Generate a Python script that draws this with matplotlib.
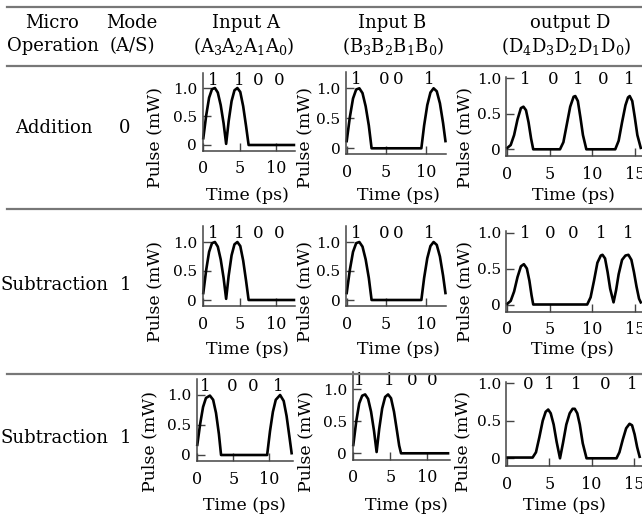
import matplotlib
matplotlib.use('Agg')
import matplotlib.pyplot as plt
from matplotlib.lines import Line2D

plt.rcParams['font.family'] = ['DejaVu Serif']
plt.rcParams['mathtext.fontset'] = 'dejavuserif'

# ---------------- data ----------------
operations = ['Addition', 'Subtraction', 'Subtraction']
modes = ['0', '1', '1']

a_bits = [[1, 1, 0, 0], [1, 1, 0, 0], [1, 0, 0, 1]]
b_bits = [[1, 0, 0, 1], [1, 0, 0, 1], [1, 1, 0, 0]]
d_bits = [[1, 0, 1, 0, 1], [1, 0, 0, 1, 1], [0, 1, 1, 0, 1]]

a_bit_pos = [[1.4, 4.9, 7.6, 10.4], [1.4, 4.9, 7.6, 10.4], [1.1, 4.8, 7.8, 11.2]]
b_bit_pos = [[1.25, 4.8, 6.5, 10.4], [1.25, 4.8, 6.5, 10.4], [0.8, 4.9, 7.9, 10.6]]
d_bit_pos = [[2.1, 5.4, 8.35, 11.3, 14.4], [2.1, 5.1, 7.8, 11.1, 14.2],
             [2.5, 5.0, 8.2, 11.6, 14.8]]

# Input A, pattern 1100 (rows 1 and 2)
a1100_t = [0, 0.4, 0.8, 1.2, 1.6, 2.0, 2.4, 2.8, 3.15, 3.5, 3.9, 4.3, 4.7, 5.1, 5.5, 5.9, 6.25, 12.5]
a1100_p = [0.12, 0.52, 0.83, 0.98, 1.0, 0.92, 0.7, 0.38, 0.02, 0.42, 0.77, 0.96, 1.0, 0.93, 0.68, 0.33, 0.0, 0.0]

# Input B, pattern 1001 (rows 1 and 2)
b1001_t = [0, 0.4, 0.8, 1.2, 1.6, 2.0, 2.4, 2.8, 3.15, 9.45, 9.8, 10.2, 10.6, 11.0, 11.4, 11.8, 12.2, 12.5]
b1001_p = [0.12, 0.52, 0.83, 0.98, 1.0, 0.92, 0.7, 0.38, 0.0, 0.0, 0.38, 0.72, 0.93, 1.0, 0.95, 0.75, 0.42, 0.12]

# Row 3 Input A (1001)
a3_t = [0, 0.4, 0.8, 1.2, 1.75, 2.2, 2.6, 3.0, 3.3, 9.7, 10.1, 10.5, 10.9, 11.5, 12.0, 12.4, 12.8, 13.1]
a3_p = [0.17, 0.52, 0.8, 0.95, 0.99, 0.92, 0.7, 0.35, 0.0, 0.0, 0.4, 0.72, 0.92, 1.0, 0.9, 0.65, 0.3, 0.03]

# Row 3 Input B (1100)
b3_t = [0, 0.4, 0.8, 1.2, 1.6, 2.0, 2.4, 2.8, 3.15, 3.5, 3.9, 4.3, 4.7, 5.1, 5.5, 5.9, 6.2, 6.45, 12.8]
b3_p = [0.13, 0.5, 0.78, 0.9, 0.92, 0.85, 0.65, 0.35, 0.02, 0.38, 0.7, 0.88, 0.92, 0.86, 0.65, 0.35, 0.12, 0.0, 0.0]

# Output D
d1_t = [0, 0.4, 0.8, 1.2, 1.6, 1.9, 2.2, 2.5, 2.8, 3.05, 6.2, 6.6, 7.0, 7.4, 7.8, 8.0, 8.3, 8.6, 8.9, 9.3,
        12.7, 13.1, 13.5, 13.9, 14.2, 14.4, 14.7, 15.0, 15.3, 15.7]
d1_p = [0.02, 0.06, 0.2, 0.42, 0.58, 0.6, 0.55, 0.38, 0.15, 0.0, 0.0, 0.1, 0.35, 0.6, 0.74, 0.75, 0.68, 0.45, 0.2, 0.0,
        0.0, 0.12, 0.38, 0.62, 0.73, 0.75, 0.68, 0.45, 0.2, 0.02]

d2_t = [0, 0.4, 0.8, 1.2, 1.6, 1.95, 2.3, 2.6, 2.85, 3.05, 9.4, 9.8, 10.2, 10.6, 11.0, 11.2, 11.5, 11.8, 12.1, 12.5,
        12.8, 13.1, 13.5, 13.9, 14.25, 14.6, 14.9, 15.2, 15.5, 15.7]
d2_p = [0.01, 0.05, 0.18, 0.38, 0.53, 0.56, 0.5, 0.33, 0.13, 0.0, 0.0, 0.1, 0.33, 0.58, 0.68, 0.69, 0.64, 0.45, 0.22, 0.03,
        0.2, 0.42, 0.62, 0.68, 0.69, 0.62, 0.45, 0.25, 0.08, 0.03]

d3_t = [0, 3.0, 3.4, 3.8, 4.2, 4.55, 4.85, 5.15, 5.5, 5.85, 6.25, 6.6, 7.0, 7.4, 7.75, 8.0, 8.3, 8.6, 8.95, 9.4,
        12.95, 13.3, 13.7, 14.1, 14.5, 14.8, 15.1, 15.4, 15.7]
d3_p = [0.01, 0.01, 0.08, 0.28, 0.5, 0.62, 0.65, 0.6, 0.45, 0.22, 0.0, 0.2, 0.45, 0.6, 0.66, 0.66, 0.6, 0.45, 0.2, 0.0,
        0.0, 0.08, 0.25, 0.4, 0.46, 0.44, 0.32, 0.15, 0.02]

a_curves = [(a1100_t, a1100_p), (a1100_t, a1100_p), (a3_t, a3_p)]
b_curves = [(b1001_t, b1001_p), (b1001_t, b1001_p), (b3_t, b3_p)]
d_curves = [(d1_t, d1_p), (d2_t, d2_p), (d3_t, d3_p)]

ab_xticks = [0, 5, 10]
d_xticks = [0, 5, 10, 15]
yticks = [0, 0.5, 1.0]
ytick_labels = ['0', '0.5', '1.0']

# ---------------- layout (pixels) ----------------
W, H = 642, 521
fig = plt.figure(figsize=(W / 100, H / 100), dpi=100)

# per row: (x0, ppx, xmax, y0, ppy) for A, B, D
layout = [
    [(203.3, 7.25, 12.6, 145.0, 57.0), (346.7, 7.9, 12.6, 148.3, 60.0), (507.3, 8.5, 15.8, 149.3, 71.0)],
    [(203.3, 7.25, 12.6, 300.0, 58.0), (346.7, 7.9, 12.6, 300.0, 58.0), (507.3, 8.5, 15.8, 304.5, 72.0)],
    [(197.3, 7.2, 13.3, 455.0, 60.0), (353.3, 7.4, 13.0, 453.3, 64.0), (507.3, 8.43, 16.0, 458.3, 75.0)],
]
pulse_label_x = [[155, 305, 465], [155, 305, 465], [150, 306, 463]]
pulse_label_y = [137, 292, 442]
time_label_x = [[247, 398, 573], [247, 398, 572], [244, 406, 564]]
time_label_y = [195, 350, 506]
row_label_y = [128, 285, 438]


def add_ax(x0, ppx, xmax, y0, ppy, ylim):
    xlim = (-0.1, xmax)
    left = x0 + xlim[0] * ppx
    right = x0 + xlim[1] * ppx
    bottom = y0 - ylim[0] * ppy
    top = y0 - ylim[1] * ppy
    ax = fig.add_axes([left / W, 1 - bottom / H, (right - left) / W, (bottom - top) / H])
    ax.set_xlim(xlim)
    ax.set_ylim(ylim)
    ax.patch.set_visible(False)
    for s in ['top', 'right']:
        ax.spines[s].set_visible(False)
    for s in ['left', 'bottom']:
        ax.spines[s].set_linewidth(1.1)
        ax.spines[s].set_color('#444444')
    ax.tick_params(direction='in', length=6, width=1, color='#444444')
    ax.tick_params(axis='x', pad=7, labelsize=11.5)
    ax.tick_params(axis='y', pad=4, labelsize=11)
    ax.set_yticks(yticks)
    ax.set_yticklabels(ytick_labels)
    return ax


for r in range(3):
    specs = layout[r]
    curves = [a_curves[r], b_curves[r], d_curves[r]]
    bits = [a_bits[r], b_bits[r], d_bits[r]]
    bpos = [a_bit_pos[r], b_bit_pos[r], d_bit_pos[r]]
    for c in range(3):
        ylim = (-0.1, 1.27) if c < 2 else (-0.1, 1.02)
        ax = add_ax(*specs[c], ylim)
        t, p = curves[c]
        ax.plot(t, p, color='black', lw=1.9, clip_on=False, solid_joinstyle='round')
        ax.set_xticks(ab_xticks if c < 2 else d_xticks)
        by = 1.14 if c < 2 else 0.98
        for xb, b in zip(bpos[c], bits[c]):
            ax.text(xb, by, str(b), ha='center', va='center', fontsize=12, clip_on=False)
        fig.text(pulse_label_x[r][c] / W, 1 - pulse_label_y[r] / H, 'Pulse (mW)', rotation=90,
                 ha='center', va='center', fontsize=12.5)
        fig.text(time_label_x[r][c] / W, 1 - time_label_y[r] / H, 'Time (ps)',
                 ha='center', va='center', fontsize=12.5)
    fig.text(54 / W, 1 - row_label_y[r] / H, operations[r], ha='center', va='center', fontsize=13)
    fig.text(125 / W, 1 - row_label_y[r] / H, modes[r], ha='center', va='center', fontsize=13)

# header
hy1, hy2 = 23, 46
fig.text(52 / W, 1 - hy1 / H, 'Micro', ha='center', va='center', fontsize=13)
fig.text(53 / W, 1 - hy2 / H, 'Operation', ha='center', va='center', fontsize=13)
fig.text(132 / W, 1 - hy1 / H, 'Mode', ha='center', va='center', fontsize=13)
fig.text(132 / W, 1 - hy2 / H, '(A/S)', ha='center', va='center', fontsize=13)
fig.text(246 / W, 1 - hy1 / H, 'Input A', ha='center', va='center', fontsize=13)
fig.text(244 / W, 1 - hy2 / H, r'(A$_3$A$_2$A$_1$A$_0$)', ha='center', va='center', fontsize=13)
fig.text(392 / W, 1 - hy1 / H, 'Input B', ha='center', va='center', fontsize=13)
fig.text(393 / W, 1 - hy2 / H, r'(B$_3$B$_2$B$_1$B$_0$)', ha='center', va='center', fontsize=13)
fig.text(570 / W, 1 - hy1 / H, 'output D', ha='center', va='center', fontsize=13)
fig.text(566 / W, 1 - hy2 / H, r'(D$_4$D$_3$D$_2$D$_1$D$_0$)', ha='center', va='center', fontsize=13)

# table rules
for yl in [7, 66, 209, 374]:
    fig.add_artist(Line2D([7 / W, 1], [1 - yl / H] * 2, color='#777777', lw=1.6))

fig.savefig('out.png', dpi=100)
